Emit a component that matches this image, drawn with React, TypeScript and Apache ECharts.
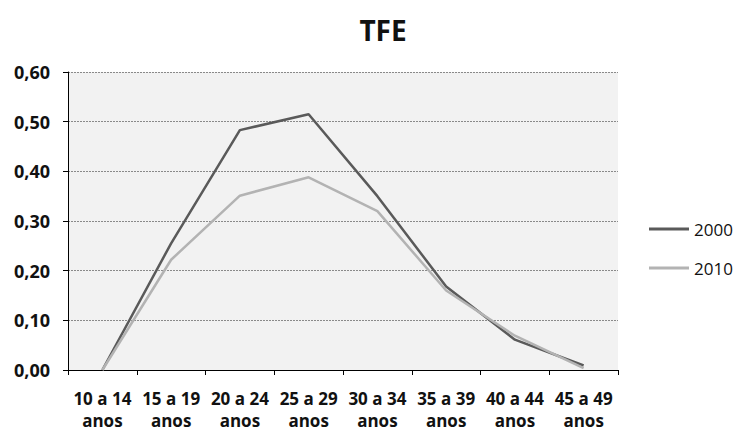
import React, { useEffect, useRef } from "react";
import * as echarts from "echarts";

const categories = ["10 a 14\nanos", "15 a 19\nanos", "20 a 24\nanos", "25 a 29\nanos", "30 a 34\nanos", "35 a 39\nanos", "40 a 44\nanos", "45 a 49\nanos"];
const series2000 = [0.0, 0.255, 0.483, 0.515, 0.35, 0.168, 0.061, 0.009];
const series2010 = [0.0, 0.222, 0.351, 0.388, 0.32, 0.16, 0.069, 0.004];
const yTicks = { min: 0, max: 0.6, interval: 0.1 };

export default function App() {
  const ref = useRef<HTMLDivElement>(null);
  useEffect(() => {
    const chart = echarts.init(ref.current!, null, { renderer: "svg" });
    const font = "'Open Sans', 'Noto Sans', sans-serif";
    chart.setOption({
      animation: false,
      backgroundColor: "#ffffff",
      title: {
        text: "TFE",
        left: 378,
        top: 11,
        textAlign: "center",
        textStyle: { fontFamily: font, fontWeight: "bold", fontSize: 28, color: "#111" },
      },
      legend: {
        orient: "vertical",
        left: 649,
        top: 219,
        itemWidth: 40,
        itemHeight: 10,
        itemGap: 19,
        padding: 0,
        data: [
          { name: "2000", icon: "path://M0,4 L40,4 L40,7 L0,7 Z" },
          { name: "2010", icon: "path://M0,4 L40,4 L40,7 L0,7 Z" },
        ],
        textStyle: { fontFamily: font, fontSize: 17, lineHeight: 20, color: "#111" },
      },
      grid: {
        left: 68,
        right: 122,
        top: 72,
        bottom: 59,
        show: true,
        backgroundColor: "#f2f2f2",
        borderWidth: 0,
      },
      xAxis: {
        type: "category",
        data: categories,
        boundaryGap: true,
        axisLine: { lineStyle: { color: "#000", width: 1 } },
        axisTick: { show: true, length: 5, lineStyle: { color: "#000" } },
        axisLabel: {
          interval: 0,
          margin: 17,
          fontFamily: font,
          fontWeight: "bold",
          fontSize: 17,
          lineHeight: 22,
          color: "#111",
        },
      },
      yAxis: {
        type: "value",
        min: yTicks.min,
        max: yTicks.max,
        interval: yTicks.interval,
        axisLine: { show: true, lineStyle: { color: "#000", width: 1 } },
        axisTick: { show: true, length: 5, lineStyle: { color: "#000" } },
        splitLine: { show: true, lineStyle: { color: "#8a8a8a", type: [2, 1], width: 1 } },
        axisLabel: {
          margin: 18,
          fontFamily: font,
          fontWeight: "bold",
          fontSize: 18,
          color: "#111",
          formatter: (v: number) => v.toFixed(2).replace(".", ","),
        },
      },
      series: [
        {
          name: "2000",
          type: "line",
          data: series2000,
          symbol: "none",
          lineStyle: { color: "#5a5a5a", width: 2.5 },
          itemStyle: { color: "#5a5a5a" },
        },
        {
          name: "2010",
          type: "line",
          data: series2010,
          symbol: "none",
          lineStyle: { color: "#b3b3b3", width: 2.5 },
          itemStyle: { color: "#b3b3b3" },
        },
      ],
    });
    return () => chart.dispose();
  }, []);
  return <div ref={ref} style={{ width: 740, height: 431, position: "absolute", left: 0, top: 0 }} />;
}
